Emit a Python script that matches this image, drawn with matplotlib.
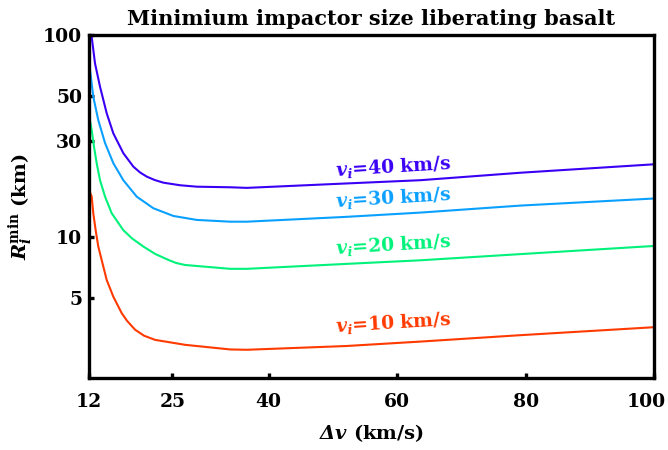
import numpy as np
import matplotlib
matplotlib.use("Agg")
from matplotlib import pyplot as plt
from matplotlib import transforms

plt.rcParams['font.family'] = ['DejaVu Serif']
plt.rcParams['mathtext.fontset'] = 'dejavuserif'

# minimum impactor radius (km) vs. delta-v (km/s), one curve per impact speed
dv_40 = [12.0, 12.42, 12.94, 13.72, 14.76, 15.79, 17.35, 18.91, 19.96, 21.0,
         22.22, 23.59, 26.2, 28.8, 34.0, 36.6, 52.0, 63.6, 79.2, 100.0]
r_40 = [104.0, 98.1, 72.4, 55.5, 41.0, 32.6, 26.0, 22.3, 20.86, 19.9,
        19.15, 18.57, 18.03, 17.74, 17.62, 17.5, 18.4, 19.1, 20.8, 22.9]

dv_30 = [12.0, 12.16, 12.67, 13.45, 14.5, 15.79, 17.35, 19.44, 22.03, 25.15,
         28.8, 34.0, 36.6, 52.0, 63.6, 79.2, 100.0]
r_30 = [80.0, 67.2, 49.5, 37.9, 29.2, 23.2, 19.1, 15.83, 13.87, 12.7,
        12.14, 11.9, 11.9, 12.57, 13.2, 14.3, 15.5]

dv_20 = [12.0, 12.42, 12.78, 13.2, 13.72, 14.5, 15.54, 17.35, 18.71, 20.47,
         22.3, 24.37, 25.57, 26.98, 34.0, 36.6, 52.0, 63.6, 79.2, 100.0]
r_20 = [40.0, 33.9, 28.0, 23.2, 19.1, 15.85, 13.1, 10.8, 9.83, 8.96,
        8.24, 7.69, 7.43, 7.26, 6.95, 6.95, 7.35, 7.66, 8.22, 9.02]

dv_10 = [12.0, 12.42, 12.67, 13.04, 13.45, 14.76, 15.79, 17.1, 17.93, 19.18,
         20.58, 22.3, 26.98, 34.0, 36.6, 52.0, 63.6, 79.2, 100.0]
r_10 = [17.1, 15.85, 13.1, 10.8, 8.96, 6.12, 5.06, 4.19, 3.84, 3.47,
        3.24, 3.09, 2.92, 2.77, 2.76, 2.88, 3.03, 3.26, 3.57]

speeds = [40, 30, 20, 10]
colors = ["#3a00f5", "#0aa0ff", "#00f27a", "#ff3a00"]
label_y = [22.2, 15.6, 9.12, 3.75]
label_x = 59.4

xticks = [12, 25, 40, 60, 80, 100]
yticks = [5, 10, 30, 50, 100]

fig = plt.figure(figsize=(6.68, 4.5), dpi=100)
ax = fig.add_axes([0.1332, 0.16, 0.8458, 0.762])

curves = [(dv_40, r_40), (dv_30, r_30), (dv_20, r_20), (dv_10, r_10)]
for (x, y), c in zip(curves, colors):
    ax.plot(x, y, color=c, lw=1.5, solid_joinstyle='round')

for v, c, ly in zip(speeds, colors, label_y):
    ax.text(label_x, ly, r"$\mathbfit{v}_{\mathbfit{i}}$=%d km/s" % v, color=c,
            fontsize=13.5, fontweight='bold', ha='center', va='center',
            rotation=3.5)

ax.set_yscale('log')
ax.set_xlim(12, 100)
ax.set_ylim(2, 100)
ax.set_xticks(xticks)
ax.set_xticklabels([str(t) for t in xticks])
ax.set_yticks(yticks)
ax.set_yticklabels([str(t) for t in yticks])
ax.minorticks_off()

for s in ax.spines.values():
    s.set_linewidth(2.4)
ax.tick_params(direction='in', length=3.5, width=2.4, labelsize=13.5,
               top=False, right=False)
ax.tick_params(axis='x', pad=11)
ax.tick_params(axis='y', pad=5)
for lab in ax.get_xticklabels() + ax.get_yticklabels():
    lab.set_fontweight('bold')

# nudge the last x label so it stays inside the figure
last = ax.get_xticklabels()[-1]
last.set_transform(last.get_transform() +
                   transforms.ScaledTranslation(-8 / 100, 0, fig.dpi_scale_trans))

ax.set_xlabel(r"$\mathbfit{\Delta v}$ (km/s)", fontsize=14, fontweight='bold', labelpad=8)
ax.set_ylabel(r"$\mathbfit{R}_{\mathbfit{i}}^{\mathbf{min}}$ (km)", fontsize=14,
              fontweight='bold', labelpad=6)
ax.set_title("Minimium impactor size liberating basalt", fontsize=15,
             fontweight='bold', pad=7)

fig.savefig("out.png", dpi=100)
